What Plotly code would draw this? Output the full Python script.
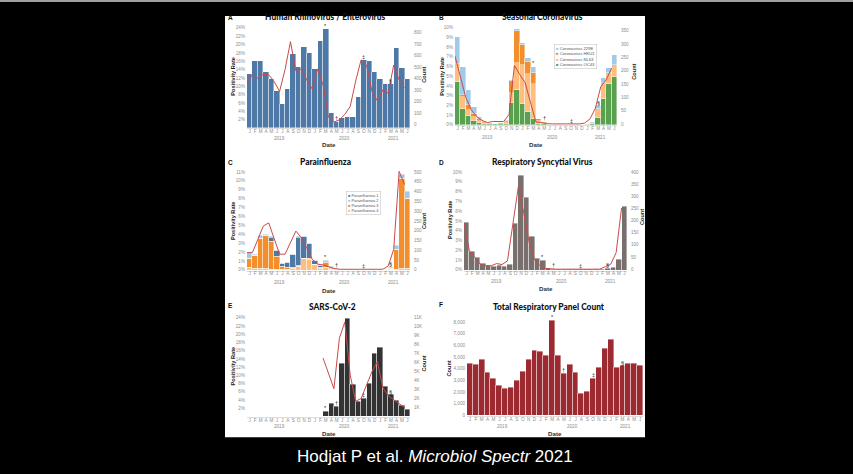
import plotly.graph_objects as go

W, H = 853, 474

# ---------------- data ----------------
month_letters = ["J", "F", "M", "A", "M", "J", "J", "A", "S", "O", "N", "D",
                 "J", "F", "M", "A", "M", "J", "J", "A", "S", "O", "N", "D",
                 "J", "F", "M", "A", "M", "J"]
month_idx = list(range(30))            # Jan 2019 ... Jun 2021
line_x = [i - 0.5 for i in month_idx]  # counts are plotted at the month start
years = ["2019", "2020", "2021"]
year_centre = [5.5, 17.5, 26.5]
event_idx = [14, 16, 21, 26]           # Mar 2020, May 2020, Oct 2020, Mar 2021
event_sym = ["*", "†", "‡", "§"]

# A  Human Rhinovirus / Enterovirus
hrv_rate = [13.1, 16.1, 16.2, 13.4, 11.8, 8.9, 5.8, 9.5, 17.8, 14.7, 19.5, 17.9,
            14.3, 20.9, 23.7, 3.7, 1.6, 2.4, 2.8, 2.6, 7.4, 16.3, 16.1, 13.5,
            11.8, 10.7, 10.5, 19.1, 14.5, 11.7]
hrv_count = [353, 440, 405, 440, 435, 376, 290, 480, 723, 468, 486, 390,
             312, 486, 347, 64, 23, 43, 90, 160, 380, 565, 520, 289,
             208, 303, 275, 520, 390, 318]

# B  Seasonal Coronavirus (stacked, bottom -> top: OC43, NL63, HKU1, 229E)
cov_oc43 = [4.4, 1.6, 0.9, 0.4, 0.2, 0.1, 0.05, 0.04, 0.08, 0.1, 2.25, 3.6,
            2.1, 1.3, 0.6, 0.1, 0.05, 0.01, 0.01, 0.01, 0.01, 0.01, 0.01, 0.01,
            0.02, 0.1, 0.7, 2.7, 4.2, 4.9]
cov_nl63 = [1.8, 1.3, 0.6, 0.4, 0.2, 0.1, 0.05, 0.03, 0.06, 0.2, 1.05, 2.75,
            4.1, 3.9, 3.6, 0.25, 0.1, 0.01, 0.01, 0.01, 0.01, 0.01, 0.01, 0.01,
            0.02, 0.1, 0.9, 1.5, 1.1, 1.2]
cov_hku1 = [0.05, 0.2, 0.5, 0.3, 0.2, 0.1, 0.03, 0.02, 0.03, 0.1, 1.25, 3.3,
            2.0, 1.3, 1.1, 0.25, 0.1, 0, 0, 0, 0, 0, 0, 0,
            0, 0.02, 0.05, 0.1, 0.05, 0.05]
cov_229e = [2.75, 2.9, 1.6, 0.7, 0.25, 0.1, 0.02, 0.01, 0.03, 0.1, 0.05, 0.2,
            0.25, 0.35, 0.7, 0.05, 0.05, 0, 0, 0, 0, 0, 0, 0,
            0.01, 0.05, 0.25, 0.55, 0.55, 1.05]
cov_count = [255, 175, 100, 54, 29, 14, 6, 10, 10, 10, 36, 220,
             186, 155, 80, 8, 6, 2, 1, 1, 1, 1, 1, 1,
             4, 20, 60, 141, 166, 210]

# C  Parainfluenza (stacked, bottom -> top: PIV4, PIV3, PIV1, PIV2)
piv4 = [0.26, 0.2, 0.15, 0.15, 0.1, 0.1, 0.1, 0.1, 0.2, 0.45, 1.3, 1.2,
        0.6, 0.2, 0.25, 0.1, 0.05, 0.02, 0.02, 0.02, 0.02, 0.02, 0.02, 0.02,
        0.02, 0.02, 0.02, 0.05, 0.2, 0.2]
piv3 = [1.05, 1.4, 3.4, 3.7, 3.07, 1.47, 0.25, 0.15, 0.1, 0.05, 0.05, 0.05,
        0.05, 0.1, 0.55, 0.1, 0.05, 0.01, 0.01, 0.01, 0.01, 0.01, 0.01, 0.01,
        0.02, 0.05, 0.2, 2.3, 10.1, 7.8]
piv1 = [0.03, 0.05, 0.05, 0.05, 0.53, 0.63, 0.35, 0.55, 1.45, 3.2, 2.45, 1.7,
        0.43, 0.2, 0.15, 0.1, 0.03, 0.01, 0.01, 0.01, 0.01, 0.01, 0.01, 0.01,
        0, 0, 0, 0, 0, 0]
piv2 = [0.6, 0.15, 0.25, 0.1, 0.03, 0.03, 0.02, 0.02, 0.02, 0.02, 0.02, 0.02,
        0.02, 0.02, 0.15, 0.05, 0.02, 0, 0, 0, 0, 0, 0, 0,
        0.01, 0.02, 0.03, 0.45, 0.4, 0.85]
piv_count = [88, 88, 156, 224, 240, 161, 80, 80, 139, 198, 164, 113,
             54, 29, 25, 15, 7, 3, 3, 3, 2, 2, 2, 2,
             3, 3, 20, 105, 503, 436]

# D  Respiratory Syncytial Virus
rsv_rate = [4.9, 1.9, 1.25, 0.65, 0.5, 0.35, 0.45, 0.35, 0.6, 4.75, 9.7, 7.4,
            3.4, 1.2, 1.0, 0.15, 0.1, 0.02, 0.02, 0.02, 0.02, 0.02, 0.02, 0.02,
            0.02, 0.05, 0.15, 0.3, 1.1, 6.5]
rsv_count = [191, 75, 48, 20, 14, 14, 23, 19, 34, 190, 339, 232,
             109, 38, 14, 3, 0, 0, 0, 0, 0, 0, 0, 0,
             0, 0, 10, 20, 68, 252]

# E  SARS-CoV-2 (testing from Mar 2020)
sars_rate = [None] * 14 + [1.2, 3.2, 2.4, 12.9, 23.8, 7.8, 3.5, 4.4, 8.1, 15.2,
                           16.8, 7.3, 5.2, 3.9, 2.6, 1.6]
sars_count = [None] * 14 + [6500, 4800, 3100, 8700, 10500, 4600, 1700, 2000, 3400, 5000,
                            6100, 3200, 2300, 1850, 1400, 1000]

# F  Total Respiratory Panel Count
total_count = [4400, 4340, 4740, 3630, 3180, 2550, 2270, 2380, 2950, 3745, 4740, 5530,
               5450, 5110, 8100, 5080, 3550, 4370, 3690, 1840, 2040, 3180, 4085, 5675,
               6500, 4085, 4230, 4430, 4455, 4285]

# tick sets
pct_2_24 = list(range(2, 25, 2))
pct_0_10 = list(range(0, 11))
pct_0_11 = list(range(0, 12))
cnt_A = list(range(0, 801, 100))
cnt_B = list(range(0, 351, 50))
cnt_C = list(range(0, 501, 50))
cnt_D = list(range(0, 401, 50))
cnt_E = list(range(1000, 11001, 1000))
cnt_F = list(range(0, 8001, 1000))

# ---------------- styling ----------------
RED = "#c94a4a"
FONT = "Liberation Sans, Arial, sans-serif"
TITLE_FONT = "Lato, Liberation Sans, Arial, sans-serif"
TICK_FONT = dict(family=FONT, size=4.6, color="#8c8c8c")
C_BLUE, C_LBLUE, C_ORANGE, C_LORANGE, C_GREEN = "#4e79a7", "#a0cbe8", "#f28e2b", "#ffbe7d", "#59a14f"

fig = go.Figure()
layout = {}
annotations = []


def names(n, letter):
    return (letter if n == 1 else f"{letter}{n}"), (f"{letter}axis" if n == 1 else f"{letter}axis{n}")


def panel(k, px_x, px_y, left, right=None, year_y=None, date_y=None):
    xid, xkey = names(k + 1, "x")
    ylid, ylkey = names(2 * k + 1, "y")
    yrid, yrkey = names(2 * k + 2, "y")
    top, bot = px_y
    layout[xkey] = dict(domain=[px_x[0] / W, px_x[1] / W], range=[-0.5, 29.5], anchor=ylid,
                        tickmode="array", tickvals=month_idx, ticktext=month_letters,
                        tickfont=TICK_FONT, tickangle=0, ticks="", showgrid=False, zeroline=False,
                        showline=True, linecolor="#dddddd", linewidth=0.6,
                        ticklabelstandoff=-2, fixedrange=True)
    z0, k_px, tv, tt = left
    layout[ylkey] = dict(domain=[1 - bot / H, 1 - top / H], anchor=xid,
                         range=[(z0 - bot) / k_px, (z0 - top) / k_px],
                         tickmode="array", tickvals=tv, ticktext=tt, tickfont=TICK_FONT,
                         ticks="", showgrid=False, zeroline=False, showline=False,
                         ticklabelstandoff=1, fixedrange=True)
    if right is not None:
        z0, k_px, tv, tt = right
        layout[yrkey] = dict(overlaying=ylid, side="right", anchor=xid,
                             range=[(z0 - bot) / k_px, (z0 - top) / k_px],
                             tickmode="array", tickvals=tv, ticktext=tt, tickfont=TICK_FONT,
                             ticks="", showgrid=False, zeroline=False, showline=False,
                             ticklabelstandoff=3, fixedrange=True)
    for yr, xc in zip(years, year_centre):
        annotations.append(dict(text=yr, x=xc, xref=xid, y=1 - year_y / H, yref="paper",
                                showarrow=False, font=dict(family=FONT, size=4.6, color="#8c8c8c"),
                                xanchor="center", yanchor="middle"))
    annotations.append(dict(text="<b>Date</b>", x=(px_x[0] + px_x[1]) / 2 / W, xref="paper",
                            y=1 - date_y / H, yref="paper", showarrow=False,
                            font=dict(family=FONT, size=6.2, color="#333"),
                            xanchor="center", yanchor="middle"))
    return xid, ylid, yrid


def bars(x, y, color, xa, ya):
    fig.add_trace(go.Bar(x=x, y=y, xaxis=xa, yaxis=ya, width=1, showlegend=False,
                         marker=dict(color=color, line=dict(color="white", width=0.4))))


def count_line(y, xa, ya):
    fig.add_trace(go.Scatter(x=line_x, y=y, xaxis=xa, yaxis=ya, mode="lines",
                             line=dict(color=RED, width=1), showlegend=False,
                             connectgaps=False))


def events(totals, xa, ya, size=5.5):
    for i, s in zip(event_idx, event_sym):
        annotations.append(dict(text=s, x=i, xref=xa, y=totals[i], yref=ya, showarrow=False,
                                xanchor="center", yanchor="bottom", yshift=-1.5,
                                font=dict(family=FONT, size=size, color="#222")))


def pct(v):
    return [f"{t}%" for t in v]


# ---- A ----
xa, ya, yb = panel(0, (247, 410), (25, 129), (128.7, 4.196, pct_2_24, pct(pct_2_24)),
                   (125.3, 0.1154, cnt_A, [str(t) for t in cnt_A]), year_y=139, date_y=145)
bars(month_idx, hrv_rate, C_BLUE, xa, ya)
count_line(hrv_count, xa, yb)
events(hrv_rate, xa, ya)

# ---- B ----
xa, ya, yb = panel(1, (455, 617), (25, 126), (125.3, 9.76, pct_0_10, pct(pct_0_10)),
                   (124.7, 0.2677, cnt_B, [str(t) for t in cnt_B]), year_y=138, date_y=145)
for vals, col in [(cov_oc43, C_GREEN), (cov_nl63, C_LORANGE), (cov_hku1, C_ORANGE), (cov_229e, C_LBLUE)]:
    bars(month_idx, vals, col, xa, ya)
count_line(cov_count, xa, yb)
cov_tot = [a + b + c + d for a, b, c, d in zip(cov_oc43, cov_nl63, cov_hku1, cov_229e)]
events(cov_tot, xa, ya)

# ---- C ----
xa, ya, yb = panel(2, (247, 410), (168, 272), (271, 8.94, pct_0_11, pct(pct_0_11)),
                   (271, 0.1966, cnt_C, [str(t) for t in cnt_C]), year_y=284, date_y=292)
for vals, col in [(piv4, C_LORANGE), (piv3, C_ORANGE), (piv1, C_BLUE), (piv2, C_LBLUE)]:
    bars(month_idx, vals, col, xa, ya)
count_line(piv_count, xa, yb)
piv_tot = [a + b + c + d for a, b, c, d in zip(piv4, piv3, piv1, piv2)]
events(piv_tot, xa, ya)

# ---- D ----
xa, ya, yb = panel(3, (464, 627), (168, 272), (271, 9.83, pct_0_10, pct(pct_0_10)),
                   (270.3, 0.244, cnt_D, [str(t) for t in cnt_D]), year_y=283, date_y=290)
bars(month_idx, rsv_rate, "#79706e", xa, ya)
count_line(rsv_count, xa, yb)
events(rsv_rate, xa, ya)

# ---- E ----
xa, ya, yb = panel(4, (247, 410), (314, 419), (418.3, 4.13, pct_2_24, pct(pct_2_24)),
                   (418.3, 0.00903, cnt_E, [f"{t // 1000}K" for t in cnt_E]), year_y=428, date_y=435)
bars(month_idx, sars_rate, "#333333", xa, ya)
count_line(sars_count, xa, yb)
events(sars_rate, xa, ya)

# ---- F ----
xa, ya, yb = panel(5, (467, 643), (318, 418), (417.3, 0.01175, cnt_F, [f"{t:,}" for t in cnt_F]),
                   None, year_y=428, date_y=435)
bars(month_idx, total_count, "#9c2a30", xa, ya)
events(total_count, xa, ya)

# ---- titles, panel letters, axis titles ----
titles = [("A", "Human Rhinovirus / Enterovirus", 325, 17, 226, 18),
          ("B", "Seasonal Coronavirus", 542, 17, 437, 18),
          ("C", "Parainfluenza", 325, 163, 226, 163),
          ("D", "Respiratory Syncytial Virus", 542, 163, 437, 163),
          ("E", "SARS-CoV-2", 332, 308, 226, 307),
          ("F", "Total Respiratory Panel Count", 549, 308, 437, 306)]
for letter, title, tx, ty, lx, ly in titles:
    annotations.append(dict(text=title, x=tx / W, y=1 - ty / H, xref="paper", yref="paper",
                            showarrow=False, xanchor="center", yanchor="middle",
                            font=dict(family=TITLE_FONT, size=8.4, color="#111", weight=900)))
    annotations.append(dict(text=f"<b>{letter}</b>", x=lx / W, y=1 - ly / H, xref="paper", yref="paper",
                            showarrow=False, xanchor="left", yanchor="middle",
                            font=dict(family=FONT, size=6.5, color="#111")))

axis_titles = [("Positivity Rate", 233, 77), ("Count", 424, 75),
               ("Positivity Rate", 442, 77), ("Count", 634, 72),
               ("Positivity Rate", 233, 222), ("Count", 424, 222),
               ("Positivity Rate", 450, 220), ("Count", 642, 218),
               ("Positivity Rate", 233, 368), ("Count", 424, 365),
               ("Count", 449, 370)]
for t, x, y in axis_titles:
    annotations.append(dict(text=f"<b>{t}</b>", x=x / W, y=1 - y / H, xref="paper", yref="paper",
                            showarrow=False, textangle=-90, xanchor="center", yanchor="middle",
                            font=dict(family=FONT, size=5.6, color="#222")))

# ---- legends ----
def legend_box(items, x, y, size):
    txt = "<br>".join(f"<span style='color:{c}'>■</span> {n}" for n, c in items)
    annotations.append(dict(text=txt, x=x / W, y=1 - y / H, xref="paper", yref="paper",
                            showarrow=False, xanchor="left", yanchor="top", align="left",
                            bgcolor="white", bordercolor="#bbbbbb", borderwidth=0.5, borderpad=1.5,
                            font=dict(family=FONT, size=size, color="#555")))


legend_box([("Coronavirus 229E", C_LBLUE), ("Coronavirus HKU1", C_ORANGE),
            ("Coronavirus NL63", C_LORANGE), ("Coronavirus OC43", C_GREEN)], 554, 44, 4.2)
legend_box([("Parainfluenza 1", C_BLUE), ("Parainfluenza 2", C_LBLUE),
            ("Parainfluenza 3", C_ORANGE), ("Parainfluenza 4", C_LORANGE)], 346, 192, 3.9)

# ---- caption ----
annotations.append(dict(text="Hodjat P et al. <i>Microbiol Spectr</i> 2021", x=435 / W, y=1 - 458 / H,
                        xref="paper", yref="paper", showarrow=False, xanchor="center", yanchor="middle",
                        font=dict(family=FONT, size=17, color="white")))

shapes = [dict(type="rect", xref="paper", yref="paper", x0=225 / W, x1=645 / W, y0=1 - 439 / H, y1=1 - 16 / H,
               fillcolor="white", line=dict(width=0), layer="below"),
          dict(type="rect", xref="paper", yref="paper", x0=0, x1=1, y0=1 - 2 / H, y1=1,
               fillcolor="#a0a0a0", line=dict(width=0), layer="below")]

fig.update_layout(width=W, height=H, margin=dict(l=0, r=0, t=0, b=0),
                  paper_bgcolor="black", plot_bgcolor="white", barmode="stack", bargap=0,
                  showlegend=False, annotations=annotations, shapes=shapes, **layout)

fig.write_html("out.html", config={"displayModeBar": False},
               post_script="document.body.style.margin='0';document.body.style.background='black';")
